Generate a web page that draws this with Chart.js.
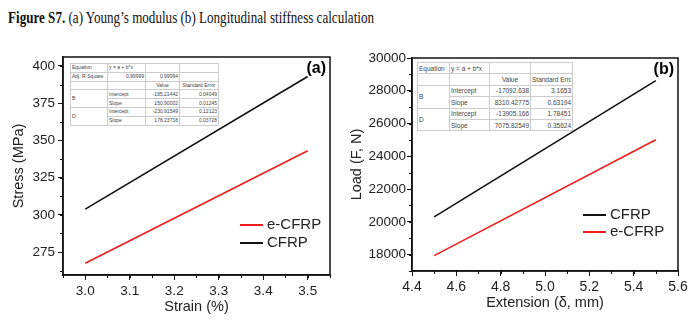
<!DOCTYPE html>
<html>
<head>
<meta charset="utf-8">
<script src="https://cdn.jsdelivr.net/npm/chart.js@4/dist/chart.umd.min.js"></script>
<style>
  body { margin: 0; background: #fff; width: 700px; height: 334px; overflow: hidden; position: relative; }
  #title { position: absolute; left: 8px; top: 8px; font-family: "Liberation Serif", serif; font-size: 17px; white-space: nowrap; transform-origin: 0 0; transform: scaleX(0.77); color: #111; }
  .box { position: absolute; top: 0; width: 350px; height: 334px; }
  .fit { position: absolute; border-collapse: collapse; background: #fff; font-family: "Liberation Sans", Arial, sans-serif; color: #444; table-layout: fixed; border: 1px solid #999; }
  .fit td { border: 1px solid #ccc; padding: 0 1px; white-space: nowrap; overflow: hidden; }
  .fit td div { overflow: hidden; }
  .r { text-align: right; }
  .c { text-align: center; }
  #fitA { left: 70px; top: 63px; width: 148px; height: 62px; font-size: 5px; }
  #fitA td { height: 7.8px; line-height: 7px; }
  #fitB { left: 417px; top: 62px; width: 155px; height: 69px; font-size: 6.5px; }
  #fitB td { height: 10.4px; line-height: 9px; }
</style>
</head>
<body>
<div id="title"><b>Figure S7.</b> (a) Young’s modulus (b) Longitudinal stiffness calculation</div>
<div class="box" style="left:0"><canvas id="chartA"></canvas></div>
<div class="box" style="left:350px"><canvas id="chartB"></canvas></div>

<table class="fit" id="fitA">
  <colgroup><col style="width:37px"><col style="width:38px"><col style="width:34px"><col style="width:39px"></colgroup>
  <tr><td>Equation</td><td>y = a + b*x</td><td></td><td></td></tr>
  <tr><td>Adj. R-Square</td><td class="r">0.99999</td><td class="r">0.99994</td><td></td></tr>
  <tr><td></td><td></td><td class="c">Value</td><td class="c">Standard Error</td></tr>
  <tr><td rowspan="2">B</td><td>Intercept</td><td class="r">-185.21442</td><td class="r">0.04049</td></tr>
  <tr><td>Slope</td><td class="r">150.90002</td><td class="r">0.01245</td></tr>
  <tr><td rowspan="2">D</td><td>Intercept</td><td class="r">-230.91549</td><td class="r">0.12123</td></tr>
  <tr><td>Slope</td><td class="r">178.23718</td><td class="r">0.03728</td></tr>
</table>

<table class="fit" id="fitB">
  <colgroup><col style="width:32px"><col style="width:40px"><col style="width:41px"><col style="width:42px"></colgroup>
  <tr><td>Equation</td><td>y = a + b*x</td><td></td><td></td></tr>
  <tr><td></td><td></td><td class="c">Value</td><td><div>Standard Error</div></td></tr>
  <tr><td rowspan="2">B</td><td>Intercept</td><td class="r">-17092.638</td><td class="r">3.1653</td></tr>
  <tr><td>Slope</td><td class="r">8310.42775</td><td class="r">0.63194</td></tr>
  <tr><td rowspan="2">D</td><td>Intercept</td><td class="r">-13905.166</td><td class="r">1.78451</td></tr>
  <tr><td>Slope</td><td class="r">7075.82549</td><td class="r">0.35624</td></tr>
</table>

<script>
// (a) Young's modulus
const strain = [3.0, 3.5];
const stressCFRP = [303.8, 392.9];
const stressECFRP = [267.5, 343.0];
const strainTicks = [3.0, 3.1, 3.2, 3.3, 3.4, 3.5];
const stressTicks = [275, 300, 325, 350, 375, 400];

// (b) Longitudinal stiffness
const extension = [4.5, 5.5];
const loadCFRP = [20304, 28615];
const loadECFRP = [17936, 25011];
const extensionTicks = [4.4, 4.6, 4.8, 5.0, 5.2, 5.4, 5.6];
const loadTicks = [18000, 20000, 22000, 24000, 26000, 28000, 30000];

const BLACK = '#111';
const RED = '#ee1c1c';
const SANS = '"Liberation Sans", Arial, sans-serif';

function pts(xs, ys) {
  return xs.map((x, i) => ({ x: x, y: ys[i] }));
}

// box frame, minor ticks, legend and panel tag
const originStyle = {
  id: 'originStyle',
  afterDraw(chart, args, opts) {
    const ctx = chart.ctx;
    const a = chart.chartArea;
    ctx.save();
    ctx.strokeStyle = BLACK;
    ctx.lineWidth = 1.5;
    ctx.strokeRect(a.left, a.top, a.right - a.left, a.bottom - a.top);

    // minor ticks
    ctx.lineWidth = 1;
    const xs = chart.scales.x, ys = chart.scales.y;
    for (let v = Math.ceil(xs.min / opts.minorX - 1e-6) * opts.minorX; v <= xs.max + 1e-9; v += opts.minorX) {
      const p = Math.round(xs.getPixelForValue(v)) + 0.5;
      ctx.beginPath(); ctx.moveTo(p, a.bottom); ctx.lineTo(p, a.bottom + 3); ctx.stroke();
    }
    for (let v = Math.ceil(ys.min / opts.minorY - 1e-6) * opts.minorY; v <= ys.max + 1e-9; v += opts.minorY) {
      const p = Math.round(ys.getPixelForValue(v)) + 0.5;
      ctx.beginPath(); ctx.moveTo(a.left, p); ctx.lineTo(a.left - 3, p); ctx.stroke();
    }

    // legend
    ctx.font = '15px ' + SANS;
    ctx.textBaseline = 'middle';
    opts.legend.order.forEach((di, k) => {
      const ds = chart.data.datasets[di];
      const y = opts.legend.y + k * opts.legend.gap;
      ctx.strokeStyle = ds.borderColor;
      ctx.lineWidth = 2;
      ctx.beginPath(); ctx.moveTo(opts.legend.x, y); ctx.lineTo(opts.legend.x + 23, y); ctx.stroke();
      ctx.fillStyle = '#222';
      ctx.fillText(ds.label, opts.legend.x + 27, y);
    });

    // panel tag
    ctx.font = 'bold 16px ' + SANS;
    ctx.textAlign = 'right';
    ctx.fillStyle = '#000';
    ctx.fillText(opts.tag, a.right - 4, a.top + 12);
    ctx.restore();
  }
};

function axis(min, max, majors, title, fixed, size, tickPad, titlePad, fmt) {
  return {
    type: 'linear', min: min, max: max,
    border: { display: true, color: BLACK, width: 1.5 },
    grid: { display: true, drawOnChartArea: false, drawTicks: true, tickLength: 5, color: BLACK, tickWidth: 1 },
    ticks: { color: '#222', font: { family: SANS, size: size }, padding: tickPad, maxRotation: 0, autoSkip: false, callback: fmt },
    title: { display: true, text: title, color: '#222', font: { family: SANS, size: 14.5, lineHeight: 1 }, padding: titlePad },
    afterBuildTicks(s) { s.ticks = majors.map(v => ({ value: v })); },
    afterFit(s) { if (s.isHorizontal()) s.height = fixed; else s.width = fixed; }
  };
}

function makeChart(id, xs, yBlack, yRed, names, cfg) {
  new Chart(document.getElementById(id), {
    type: 'scatter',
    data: {
      datasets: [
        { label: names[0], data: pts(xs, yBlack), borderColor: BLACK, showLine: true, borderWidth: 1.6, pointRadius: 0 },
        { label: names[1], data: pts(xs, yRed), borderColor: RED, showLine: true, borderWidth: 1.6, pointRadius: 0 }
      ]
    },
    options: {
      responsive: false,
      animation: false,
      layout: { padding: cfg.pad },
      plugins: {
        legend: { display: false },
        tooltip: { enabled: false },
        originStyle: cfg.style
      },
      scales: { x: cfg.x, y: cfg.y }
    },
    plugins: [originStyle]
  });
}

document.getElementById('chartA').width = 350;
document.getElementById('chartA').height = 334;
document.getElementById('chartB').width = 350;
document.getElementById('chartB').height = 334;

makeChart('chartA', strain, stressCFRP, stressECFRP, ['CFRP', 'e-CFRP'], {
  pad: { top: 57, right: 20, left: 0, bottom: 0 },
  x: axis(2.95, 3.55, strainTicks, 'Strain (%)', 59, 13.5, 3, { top: 0, bottom: 20 }, v => v.toFixed(1)),
  y: axis(259.6, 406, stressTicks, 'Stress (MPa)', 63, 13.5, 3, { top: 12, bottom: 0 }, v => String(v)),
  style: { minorX: 0.05, minorY: 12.5, tag: '(a)', legend: { x: 240, y: 225, gap: 18, order: [1, 0] } }
});

makeChart('chartB', extension, loadCFRP, loadECFRP, ['CFRP', 'e-CFRP'], {
  pad: { top: 58, right: 22, left: 0, bottom: 0 },
  x: axis(4.4, 5.6, extensionTicks, 'Extension (δ, mm)', 63, 14, 3, { top: 0, bottom: 24 }, v => v.toFixed(1)),
  y: axis(17000, 30000, loadTicks, 'Load (F, N)', 62, 13.5, 1, { top: 0, bottom: 0 }, v => String(v)),
  style: { minorX: 0.1, minorY: 1000, tag: '(b)', legend: { x: 233, y: 215, gap: 17, order: [0, 1] } }
});
</script>
</body>
</html>
